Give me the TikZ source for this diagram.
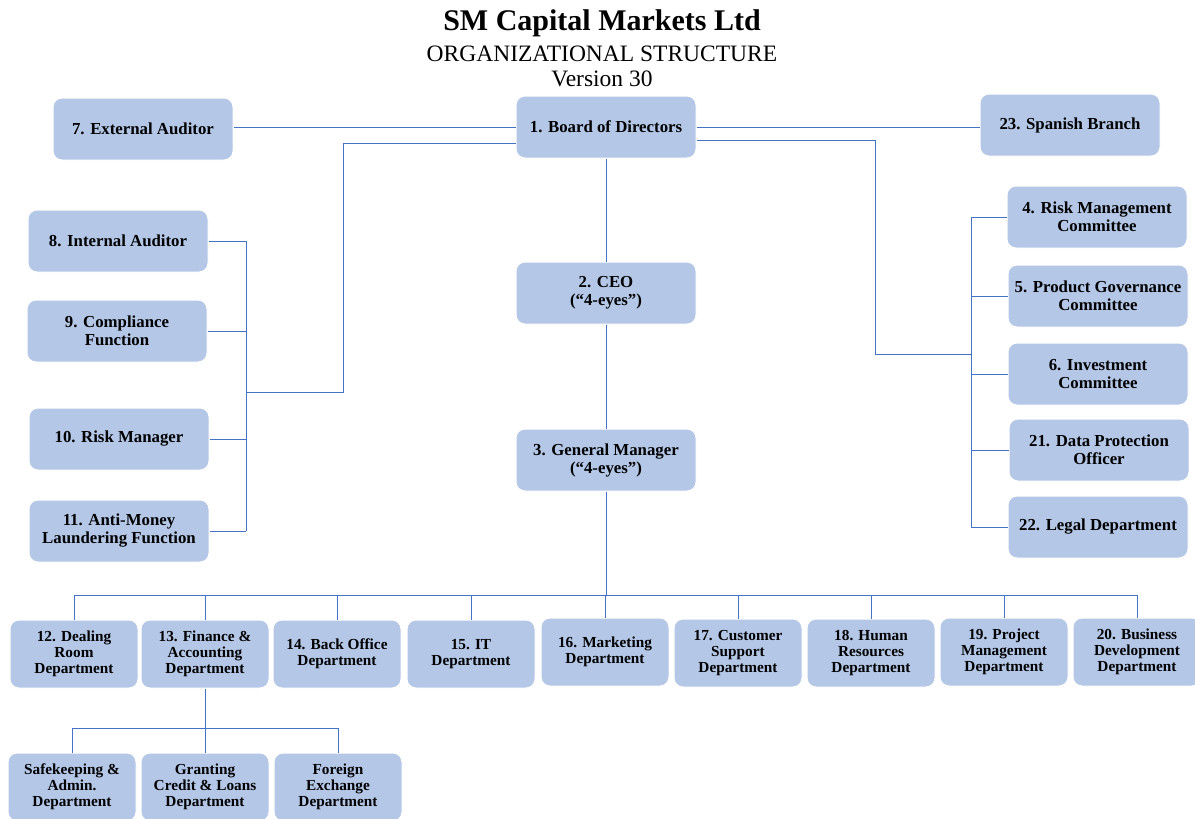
\documentclass[tikz,border=0pt]{standalone}
\usepackage{fontspec}
\setmainfont{Liberation Serif}
\usetikzlibrary{positioning}
\definecolor{boxblue}{HTML}{B4C7E7}
\definecolor{lineblue}{HTML}{4472C4}
\begin{document}
\begin{tikzpicture}[x=1pt, y=-1pt,
  unit/.style={draw=white, line width=1pt, fill=boxblue, rounded corners=9pt, font=\bfseries\fontsize{16.8}{18}\selectfont, align=center, minimum width=180pt, minimum height=62pt, inner sep=1pt},
  dept/.style={unit, font=\bfseries\fontsize{15.3}{16}\selectfont, minimum width=128pt, minimum height=68pt},
  ln/.style={draw=lineblue, line width=0.9pt}
]
\useasboundingbox (0,0) rectangle (1195,819);
\node[font=\bfseries\fontsize{30}{32}\selectfont] (ttl) at (602,23) {SM Capital Markets Ltd};
\node[font=\fontsize{23.5}{26}\selectfont] (sub) at (602,54) {ORGANIZATIONAL STRUCTURE};
\node[font=\fontsize{23.5}{26}\selectfont] (ver) at (602,79) {Version 30};

\node[unit] (bod) at (606,127) {1. Board of Directors};
\node[unit] (ceo) at (606,293) {2. CEO\\(“4-eyes”)};
\node[unit] (gm) at (606,460) {3. General Manager\\(“4-eyes”)};
\node[unit] (ext) at (143,129) {7. External Auditor};
\node[unit] (esp) at (1070,125) {23. Spanish Branch};

\node[unit] (ia) at (118,241) {8. Internal Auditor};
\node[unit] (cf) at (117,331) {9. Compliance\\Function};
\node[unit] (rm) at (119,439) {10. Risk Manager};
\node[unit] (aml) at (119,531) {11. Anti-Money\\Laundering Function};

\node[unit] (rmc) at (1097,217) {4. Risk Management\\Committee};
\node[unit] (pgc) at (1098,296) {5. Product Governance\\Committee};
\node[unit] (inv) at (1098,374) {6. Investment\\Committee};
\node[unit] (dpo) at (1099,450) {21. Data Protection\\Officer};
\node[unit] (leg) at (1098,527) {22. Legal Department};

\node[dept] (d12) at (74,654) {12. Dealing\\Room\\Department};
\node[dept] (d13) at (205,654) {13. Finance \&\\Accounting\\Department};
\node[dept] (d14) at (337,654) {14. Back Office\\Department};
\node[dept] (d15) at (471,654) {15. IT\\Department};
\node[dept] (d16) at (605,652) {16. Marketing\\Department};
\node[dept] (d17) at (738,653) {17. Customer\\Support\\Department};
\node[dept] (d18) at (871,653) {18. Human\\Resources\\Department};
\node[dept] (d19) at (1004,652) {19. Project\\Management\\Department};
\node[dept] (d20) at (1137,652) {20. Business\\Development\\Department};

\node[dept] (sk) at (72,787) {Safekeeping \&\\Admin.\\Department};
\node[dept] (gcl) at (205,787) {Granting\\Credit \& Loans\\Department};
\node[dept] (fx) at (338,787) {Foreign\\Exchange\\Department};

\coordinate (lturn) at (343,392);
\coordinate (lbus) at (246,392);
\coordinate (rturn) at (875,354);
\coordinate (rbus) at (971,354);
\coordinate (bbus) at (606,595);
\coordinate (sbus) at (205,728);

\draw[ln] (bod.west) -- (bod.west -| ext.east);
\draw[ln] (bod.east) -- (bod.east -| esp.west);
\draw[ln] (bod) -- (ceo);
\draw[ln] (ceo) -- (gm);

\draw[ln] ([yshift=-16pt]bod.west) -| (lturn) -- (lbus);
\draw[ln] (ia.east -| lbus) -- (aml.east -| lbus);
\foreach \n in {ia,cf,rm,aml}
  \draw[ln] (\n.east) -- (\n.east -| lbus);

\draw[ln] ([yshift=-13pt]bod.east) -| (rturn) -- (rbus);
\draw[ln] (rmc.west -| rbus) -- (leg.west -| rbus);
\foreach \n in {rmc,pgc,inv,dpo,leg}
  \draw[ln] (\n.west) -- (\n.west -| rbus);

\draw[ln] (gm) -- (bbus);
\draw[ln] (d12.north |- bbus) -- (d20.north |- bbus);
\foreach \n in {d12,d13,d14,d15,d16,d17,d18,d19,d20}
  \draw[ln] (\n.north |- bbus) -- (\n.north);

\draw[ln] (d13) -- (gcl);
\draw[ln] (sk.north |- sbus) -- (fx.north |- sbus);
\draw[ln] (sk.north |- sbus) -- (sk.north);
\draw[ln] (fx.north |- sbus) -- (fx.north);
\end{tikzpicture}
\end{document}
